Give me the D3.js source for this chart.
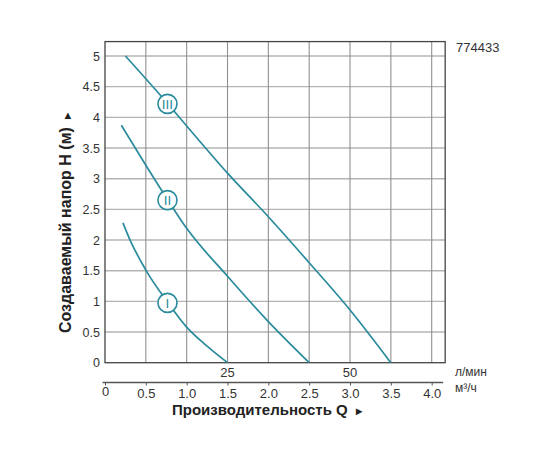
<!DOCTYPE html>
<html>
<head>
<meta charset="utf-8">
<script src="https://cdn.jsdelivr.net/npm/d3@7"></script>
<style>
body { margin: 0; background: #fff; }
text { font-family: "Liberation Sans", Arial, sans-serif; }
</style>
</head>
<body>
<div id="chart"></div>
<script>
// pump curves, Q in m3/h, H in m
const qI = [0.22, 0.3, 0.5, 0.77, 1.0, 1.25, 1.5];
const hI = [2.28, 2.02, 1.51, 0.98, 0.58, 0.27, 0];
const qII = [0.2, 0.5, 0.77, 1.0, 1.5, 2.0, 2.5];
const hII = [3.87, 3.22, 2.65, 2.19, 1.41, 0.67, 0];
const qIII = [0.25, 0.77, 1.0, 1.5, 2.0, 2.5, 3.0, 3.5];
const hIII = [5.0, 4.22, 3.86, 3.09, 2.38, 1.63, 0.86, 0];

const curveNames = ["I", "II", "III"];
const labelQ = [0.765, 0.765, 0.765];
const labelH = [0.975, 2.65, 4.22];

const hTicks = [0, 0.5, 1, 1.5, 2, 2.5, 3, 3.5, 4, 4.5, 5];
const hLabels = ["0", "0.5", "1", "1.5", "2", "2.5", "3", "3.5", "4", "4.5", "5"];
const qTicks = [0, 0.5, 1, 1.5, 2, 2.5, 3, 3.5, 4];
const qLabels = ["0", "0.5", "1.0", "1.5", "2.0", "2.5", "3.0", "3.5", "4.0"];
const lpmTicks = [25, 50];

const teal = "#2a8b9c";
const qMax = 4.165, hMax = 5.235;

let svg = d3.select("#chart").append("svg")
    .attr("width", 560)
    .attr("height", 460);

let x = d3.scaleLinear().domain([0, 4]).range([105, 431.7]);
let y = d3.scaleLinear().domain([0, 5]).range([362.7, 56]);

// grid
svg.append("g").selectAll("line")
    .data(hTicks.filter(d => d > 0))
    .enter().append("line")
    .attr("x1", x(0)).attr("x2", x(qMax))
    .attr("y1", d => y(d)).attr("y2", d => y(d))
    .attr("stroke", "#b4b4b4").attr("stroke-width", 1.4);

svg.append("g").selectAll("line")
    .data(qTicks.filter(d => d > 0))
    .enter().append("line")
    .attr("x1", d => x(d)).attr("x2", d => x(d))
    .attr("y1", y(0)).attr("y2", y(hMax))
    .attr("stroke", "#909090").attr("stroke-width", 1.1);

svg.append("rect")
    .attr("x", x(0)).attr("y", y(hMax))
    .attr("width", x(qMax) - x(0)).attr("height", y(0) - y(hMax))
    .attr("fill", "none").attr("stroke", "#444").attr("stroke-width", 1.3);

// y tick labels
svg.append("g").selectAll("text")
    .data(hTicks)
    .enter().append("text")
    .attr("x", 100).attr("y", d => y(d) + 4.5)
    .attr("text-anchor", "end")
    .attr("font-size", 12.5).attr("fill", "#333")
    .text((d, i) => hLabels[i]);

// l/min labels above the lower axis
svg.append("g").selectAll("text")
    .data(lpmTicks)
    .enter().append("text")
    .attr("x", d => x(d * 0.06)).attr("y", 377)
    .attr("text-anchor", "middle")
    .attr("font-size", 13).attr("fill", "#333")
    .text(d => d);

// m3/h axis
let axisY = 382.5;
svg.append("line")
    .attr("x1", x(-0.03)).attr("x2", x(4.14))
    .attr("y1", axisY).attr("y2", axisY)
    .attr("stroke", "#555").attr("stroke-width", 1.3);

let qAxis = svg.append("g")
    .attr("transform", "translate(0," + axisY + ")")
    .call(d3.axisBottom(x).tickValues(qTicks).tickSize(3)
        .tickFormat((d, i) => qLabels[i]));
qAxis.select(".domain").remove();
qAxis.selectAll("line").attr("stroke", "#555");
qAxis.selectAll("text")
    .attr("y", 6.5)
    .attr("font-family", "Liberation Sans, Arial, sans-serif")
    .attr("font-size", 13).attr("fill", "#333");
qAxis.select("text").attr("y", 4);

svg.append("text").attr("x", 455).attr("y", 376)
    .attr("font-size", 12).attr("fill", "#333").text("л/мин");
svg.append("text").attr("x", 455).attr("y", 392)
    .attr("font-size", 12).attr("fill", "#333").text("м³/ч");
svg.append("text").attr("x", 456).attr("y", 52)
    .attr("font-size", 13).attr("fill", "#333").text("774433");

// axis titles
let xt = svg.append("text").attr("x", 172).attr("y", 415)
    .attr("font-size", 15).attr("font-weight", "bold").attr("fill", "#222")
    .text("Производительность Q");
xt.append("tspan").attr("dx", 6).attr("font-size", 11).text("►");

let yt = svg.append("text")
    .attr("transform", "translate(71,333) rotate(-90)")
    .attr("font-size", 16).attr("font-weight", "bold").attr("fill", "#222")
    .text("Создаваемый напор H (м)");
yt.append("tspan").attr("dx", 6).attr("font-size", 11).text("►");

// curves
let series = [
    qI.map((q, i) => [q, hI[i]]),
    qII.map((q, i) => [q, hII[i]]),
    qIII.map((q, i) => [q, hIII[i]])
];
let line = d3.line()
    .x(d => x(d[0])).y(d => y(d[1]))
    .curve(d3.curveMonotoneX);

svg.append("g").selectAll("path")
    .data(series)
    .enter().append("path")
    .attr("d", line)
    .attr("fill", "none").attr("stroke", teal).attr("stroke-width", 1.7);

// roman numeral markers
let marks = svg.append("g").selectAll("g")
    .data(curveNames)
    .enter().append("g")
    .attr("transform", (d, i) => "translate(" + x(labelQ[i]) + "," + y(labelH[i]) + ")");
marks.append("circle")
    .attr("r", 9.5)
    .attr("fill", "#fff").attr("stroke", teal).attr("stroke-width", 1.6);
marks.append("text")
    .attr("y", 5)
    .attr("text-anchor", "middle")
    .attr("font-size", 13.5)
    .attr("fill", teal)
    .text(d => d);
</script>
</body>
</html>
